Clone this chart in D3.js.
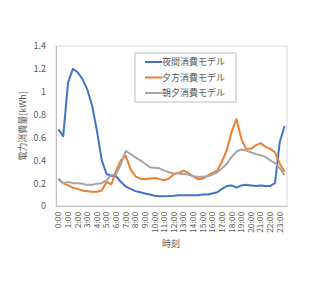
<!DOCTYPE html>
<html>
<head>
<meta charset="utf-8">
<script src="https://cdn.jsdelivr.net/npm/d3@7"></script>
<style>
  body { margin: 0; background: #fff; }
  text { font-family: "Noto Sans CJK JP", "Noto Sans", sans-serif; fill: #595959; }
</style>
</head>
<body>
<svg id="chart" width="315" height="281"></svg>
<script>
// half-hour slots, labels only on the hour
const times = d3.range(48).map(i => Math.floor(i / 2) + ":" + (i % 2 ? "30" : "00"));
const seriesNames = ["夜間消費モデル", "夕方消費モデル", "朝夕消費モデル"];
const nightValues = [0.67, 0.61, 1.08, 1.2, 1.17, 1.11, 1.02, 0.88, 0.66, 0.40, 0.28, 0.265,
  0.26, 0.21, 0.17, 0.15, 0.13, 0.12, 0.11, 0.10, 0.09, 0.085, 0.085, 0.087,
  0.09, 0.095, 0.095, 0.095, 0.095, 0.095, 0.1, 0.1, 0.11, 0.12, 0.15, 0.175,
  0.18, 0.16, 0.18, 0.185, 0.18, 0.175, 0.18, 0.175, 0.175, 0.2, 0.56, 0.70];
const eveningValues = [0.24, 0.2, 0.18, 0.16, 0.15, 0.135, 0.13, 0.125, 0.125, 0.135, 0.21, 0.19,
  0.31, 0.40, 0.44, 0.32, 0.26, 0.24, 0.235, 0.24, 0.245, 0.235, 0.225, 0.24,
  0.28, 0.29, 0.31, 0.29, 0.26, 0.235, 0.24, 0.265, 0.29, 0.31, 0.39, 0.49,
  0.65, 0.76, 0.59, 0.50, 0.50, 0.53, 0.55, 0.52, 0.50, 0.47, 0.37, 0.30];
const morningEveningValues = [0.23, 0.2, 0.21, 0.2, 0.2, 0.195, 0.185, 0.185, 0.195, 0.2, 0.225, 0.27,
  0.28, 0.37, 0.48, 0.455, 0.425, 0.40, 0.37, 0.34, 0.335, 0.33, 0.31, 0.295,
  0.285, 0.285, 0.28, 0.275, 0.26, 0.255, 0.255, 0.26, 0.275, 0.295, 0.33, 0.37,
  0.43, 0.475, 0.495, 0.485, 0.47, 0.455, 0.445, 0.43, 0.40, 0.375, 0.33, 0.27];
const yTicks = [0, 0.2, 0.4, 0.6, 0.8, 1, 1.2, 1.4];

const colors = ["#4472C4", "#ED7D31", "#A5A5A5"];
const allSeries = [nightValues, eveningValues, morningEveningValues];

const svg = d3.select("#chart");
const plotL = 56, plotR = 287, plotT = 46, plotB = 206;

const x = d3.scaleBand().domain(times).range([plotL, plotR]);
const y = d3.scaleLinear().domain([0, 1.4]).range([plotB, plotT]);

// plot frame
svg.append("rect")
  .attr("x", plotL).attr("y", plotT)
  .attr("width", plotR - plotL).attr("height", plotB - plotT)
  .attr("fill", "none").attr("stroke", "#d9d9d9").attr("stroke-width", 1);

// y axis
const yAxis = svg.append("g")
  .attr("transform", `translate(${plotL},0)`)
  .call(d3.axisLeft(y).tickValues(yTicks).tickSize(0).tickPadding(10).tickFormat(d3.format("~g")));
yAxis.select(".domain").attr("stroke", "#bfbfbf");
yAxis.selectAll("text").style("font-size", "9px").attr("fill", "#595959");

// x axis, label every hour
const xAxis = svg.append("g")
  .attr("transform", `translate(0,${plotB})`)
  .call(d3.axisBottom(x).tickValues(times.filter((d, i) => i % 2 === 0)).tickSize(0));
xAxis.select(".domain").attr("stroke", "#bfbfbf");
xAxis.selectAll("text")
  .style("font-size", "8.3px").attr("fill", "#595959")
  .attr("transform", "rotate(-90)")
  .attr("text-anchor", "end")
  .attr("x", -6).attr("y", 0).attr("dy", "0.35em");

// series lines
const line = d3.line()
  .x((d, i) => x(times[i]) + x.bandwidth() / 2)
  .y(d => y(d));

allSeries.forEach((vals, k) => {
  svg.append("path")
    .datum(vals)
    .attr("d", line)
    .attr("fill", "none")
    .attr("stroke", colors[k])
    .attr("stroke-width", 2)
    .attr("stroke-linejoin", "round");
});

// axis titles
svg.append("text")
  .attr("transform", "translate(26,126) rotate(-90)")
  .attr("text-anchor", "middle")
  .style("font-size", "9px")
  .text("電力消費量[kWh]");
svg.append("text")
  .attr("x", 171).attr("y", 247)
  .attr("text-anchor", "middle")
  .style("font-size", "9px")
  .text("時刻");

// legend
const legend = svg.append("g").attr("transform", "translate(135,53)");
legend.append("rect")
  .attr("width", 101).attr("height", 49)
  .attr("fill", "#fff").attr("stroke", "#bfbfbf");
seriesNames.forEach((name, k) => {
  const g = legend.append("g").attr("transform", `translate(0,${9 + k * 15.5})`);
  g.append("line")
    .attr("x1", 10).attr("x2", 27)
    .attr("stroke", colors[k]).attr("stroke-width", 2);
  g.append("text")
    .attr("x", 27).attr("dy", "0.35em")
    .style("font-size", "9px")
    .text(name);
});
</script>
</body>
</html>
